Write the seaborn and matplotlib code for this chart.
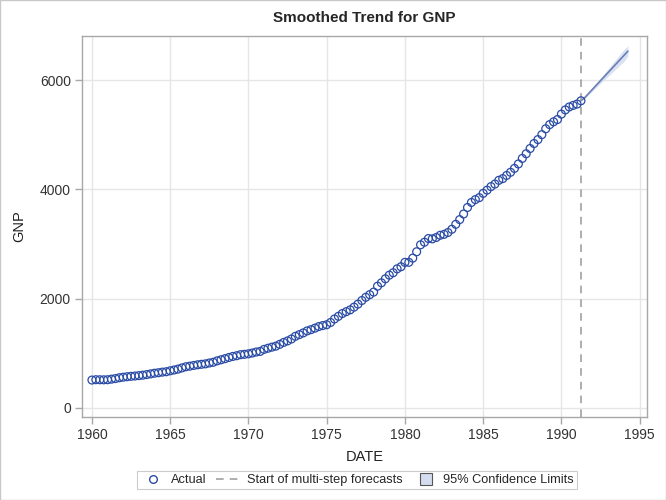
import numpy as np
import pandas as pd
import seaborn as sns
import matplotlib.pyplot as plt
from matplotlib.lines import Line2D
from matplotlib.patches import Rectangle

# Quarterly GNP, 1960Q1 - 1991Q2
gnp = [
    511, 517, 516, 515,
    517, 527, 538, 553,
    563, 572, 579, 585,
    592, 600, 611, 624,
    636, 645, 656, 663,
    680, 695, 711, 733,
    754, 765, 778, 790,
    799, 807, 823, 836,
    862, 882, 902, 924,
    943, 956, 975, 982,
    991, 1006, 1024, 1035,
    1072, 1093, 1113, 1131,
    1164, 1199, 1227, 1262,
    1311, 1342, 1373, 1410,
    1433, 1460, 1490, 1508,
    1523, 1564, 1628, 1677,
    1728, 1762, 1795, 1845,
    1900, 1966, 2025, 2073,
    2120, 2228, 2290, 2363,
    2430, 2474, 2545, 2584,
    2664, 2665, 2741, 2858,
    2985, 3033, 3100, 3094,
    3119, 3159, 3176, 3210,
    3269, 3360, 3446, 3549,
    3668, 3760, 3812, 3848,
    3927, 3985, 4050, 4097,
    4165, 4196, 4254, 4312,
    4383, 4464, 4566, 4651,
    4747, 4838, 4910, 5000,
    5108, 5184, 5235, 5277,
    5376, 5453, 5507, 5535,
    5560, 5620,
]

# Forecasts 1991Q2 (last actual) - 1994Q2
fcst = [5620, 5680, 5757, 5834, 5911, 5988, 6065, 6142, 6219, 6296, 6373, 6450, 6527]
lower = [5620, 5665, 5734, 5802, 5870, 5938, 6006, 6073, 6140, 6207, 6274, 6340, 6440]
upper = [5620, 5695, 5780, 5866, 5952, 6038, 6124, 6211, 6298, 6385, 6472, 6560, 6625]

forecast_start = 1991.25

dates = 1960 + np.arange(len(gnp)) / 4
fdates = forecast_start + np.arange(len(fcst)) / 4
df = pd.DataFrame({'DATE': dates, 'GNP': gnp})
fdf = pd.DataFrame({'DATE': fdates, 'GNP': fcst, 'lo': lower, 'hi': upper})

sns.set_style('white')
plt.rcParams['font.family'] = ['Liberation Sans', 'DejaVu Sans']

fig = plt.figure(figsize=(6.66, 5), dpi=100)
ax = fig.add_axes([0.123, 0.166, 0.848, 0.762])

ax.grid(True, color='#e6e6e6', linewidth=1)
ax.set_axisbelow(True)

ax.fill_between(fdf['DATE'], fdf['lo'], fdf['hi'], color='#d3ddef', alpha=0.85,
                linewidth=0, zorder=2)
sns.lineplot(data=fdf, x='DATE', y='GNP', ax=ax, color='#6b7db8', linewidth=1.2, zorder=3)
ax.axvline(forecast_start, color='#999999', linestyle=(0, (5, 4)), linewidth=1.1, zorder=3)
sns.scatterplot(data=df, x='DATE', y='GNP', ax=ax, marker='o', s=32,
                facecolor='none', edgecolor='#2a4ba5', linewidth=0.9, zorder=4)

ax.set_xlim(1959.36, 1995.45)
ax.set_ylim(-165, 6805)
ax.set_xticks(np.arange(1960, 1996, 5))
ax.set_yticks([0, 2000, 4000, 6000])

for s in ax.spines.values():
    s.set_color('#a8a8a8')
    s.set_linewidth(1)
ax.tick_params(axis='both', direction='out', length=5, width=1, color='#a8a8a8',
               labelsize=10, labelcolor='#333333', pad=3)
ax.tick_params(left=True, bottom=True)

ax.set_xlabel('DATE', fontsize=10.5, color='#222222', labelpad=6)
ax.set_ylabel('GNP', fontsize=10.5, color='#222222', labelpad=10)
ax.set_title('Smoothed Trend for GNP', fontsize=11, fontweight='bold', pad=10)

handles = [
    Line2D([], [], marker='o', linestyle='none', markerfacecolor='none',
           markeredgecolor='#2a4ba5', markersize=5.5, markeredgewidth=1),
    Line2D([], [], color='#999999', linestyle=(0, (5, 4)), linewidth=1.1),
    Line2D([], [], marker='s', linestyle='none', markerfacecolor='#d3ddef',
           markeredgecolor='#555555', markersize=8, markeredgewidth=0.8),
]
labels = ['Actual', 'Start of multi-step forecasts', '95% Confidence Limits']
leg = fig.legend(handles, labels, loc='center', bbox_to_anchor=(0.536, 0.04), ncol=3,
                 fontsize=9.2, frameon=True, fancybox=False, handlelength=2.0,
                 columnspacing=0.8, handletextpad=0.4, borderpad=0.25)
leg.get_frame().set_edgecolor('#c0c0c0')
leg.get_frame().set_linewidth(0.8)

fig.patches.append(Rectangle((0, 0), 1, 1, transform=fig.transFigure, fill=False,
                             edgecolor='#c8c8c8', linewidth=1))

fig.savefig('out.png', dpi=100)
